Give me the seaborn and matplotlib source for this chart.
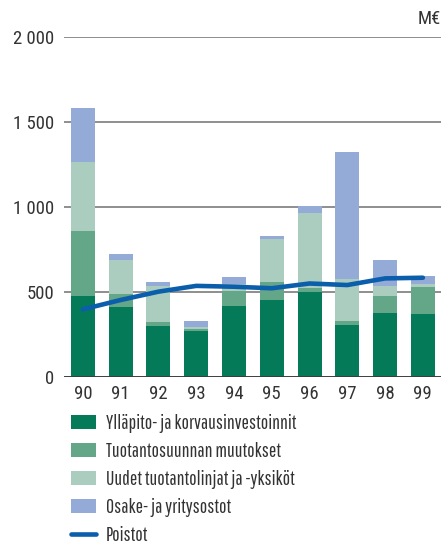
import numpy as np
import pandas as pd
import matplotlib
matplotlib.use("Agg")
import matplotlib.pyplot as plt
from matplotlib.patches import Patch
from matplotlib.lines import Line2D
import seaborn as sns

# Investments by type (M€), 1990-1999
years = ["90", "91", "92", "93", "94", "95", "96", "97", "98", "99"]
yllapito = [475, 410, 299, 271, 418, 452, 499, 306, 376, 370]
tuotantosuunta = [386, 76, 23, 12, 90, 106, 24, 23, 100, 158]
uudet = [404, 205, 211, 13, 38, 253, 444, 247, 58, 17]
osakkeet = [317, 30, 24, 33, 41, 18, 41, 747, 153, 48]
poistot = [398, 453, 502, 536, 531, 522, 550, 541, 580, 584]

series_labels = ["Ylläpito- ja korvausinvestoinnit", "Tuotantosuunnan muutokset",
                 "Uudet tuotantolinjat ja -yksiköt", "Osake- ja yritysostot"]
line_label = "Poistot"
colors = ["#057a58", "#63a688", "#abcdbf", "#93abd6"]
line_color = "#0b5eab"
text_color = "#333333"
tick_fs = 13.5
legend_fs = 14.2

sns.set_theme(style="white")
plt.rcParams["font.family"] = ["Roboto Condensed", "Liberation Sans", "DejaVu Sans"]
legend_family = ["Pathway Gothic One", "Roboto Condensed", "DejaVu Sans"]

df = pd.DataFrame({"year": years, "s1": yllapito, "s2": tuotantosuunta,
                   "s3": uudet, "s4": osakkeet})
cum = df[["s1", "s2", "s3", "s4"]].cumsum(axis=1)

fig = plt.figure(figsize=(4.41, 5.47), dpi=100)
ax = fig.add_axes([64 / 441, 170 / 547, 1 - 64 / 441, 340 / 547])

# stacked bars: draw cumulative totals from top layer down
for col, c in zip(["s4", "s3", "s2", "s1"], colors[::-1]):
    sns.barplot(x=df["year"], y=cum[col], color=c, width=0.635,
                saturation=1, ax=ax, zorder=3, linewidth=0)

sns.lineplot(x=np.arange(len(years)), y=poistot, color=line_color,
             linewidth=3.3, ax=ax, zorder=4, solid_capstyle="round")

ax.set_xlim(-0.5, 9.48)
ax.set_ylim(0, 2000)
ax.set_yticks([0, 500, 1000, 1500, 2000])
ax.set_yticklabels(["0", "500", "1 000", "1 500", "2 000"])
ax.set_xlabel("")
ax.set_ylabel("")
for s in ax.spines.values():
    s.set_visible(False)
ax.yaxis.grid(True, color="#707070", linewidth=1.1, zorder=1)
ax.xaxis.grid(False)
ax.axhline(0, color="#3a3a3a", linewidth=2, zorder=5)
ax.tick_params(axis="y", length=0, pad=7, labelsize=tick_fs, labelcolor=text_color)
ax.tick_params(axis="x", length=0, pad=6, labelsize=tick_fs, labelcolor=text_color)
ax.set_axisbelow(True)

ax.text(1.0, 1.025, "M€", transform=ax.transAxes, ha="right", va="bottom",
        fontsize=tick_fs, color=text_color)

handles = [Patch(facecolor=c, edgecolor="none") for c in colors]
handles.append(Line2D([0], [0], color=line_color, linewidth=3.3))
fig.legend(handles, series_labels + [line_label], loc="upper left",
           bbox_to_anchor=(67 / 441, 1 - 410 / 547), frameon=False,
           prop={"family": legend_family, "size": legend_fs},
           handlelength=1.27, handleheight=0.72, handletextpad=0.5,
           labelspacing=0.46, borderaxespad=0, borderpad=0.2,
           labelcolor=text_color)

fig.savefig("out.png", dpi=100)
